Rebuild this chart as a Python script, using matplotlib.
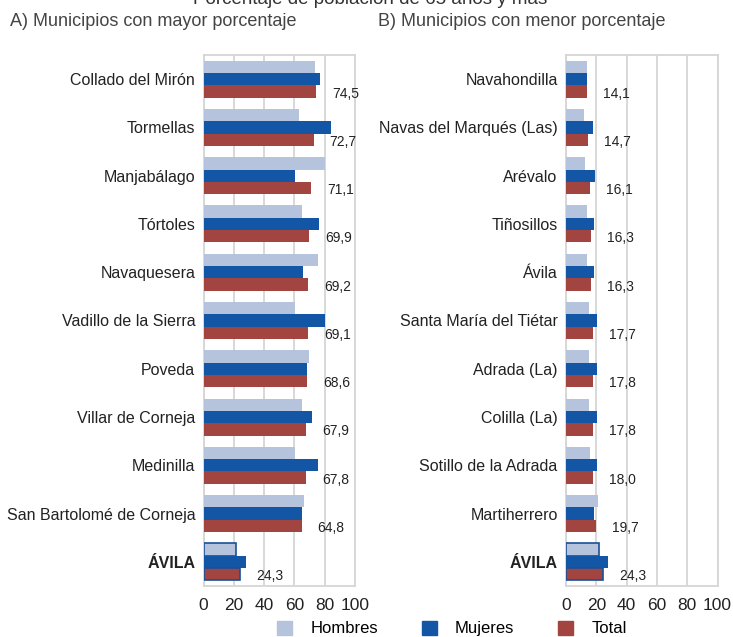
'''
Porcentaje de población de 65 años y más: municipios con mayor y menor porcentaje.
'''

import matplotlib.pyplot as plt
import numpy as np
from matplotlib.patches import Patch

plt.rcParams['font.family'] = ['Liberation Sans', 'DejaVu Sans']

# A) mayor porcentaje
muni_a = ['Collado del Mirón', 'Tormellas', 'Manjabálago', 'Tórtoles', 'Navaquesera',
          'Vadillo de la Sierra', 'Poveda', 'Villar de Corneja', 'Medinilla',
          'San Bartolomé de Corneja', 'ÁVILA']
hombres_a = [73.7, 63.2, 80.5, 64.9, 75.5, 60.5, 69.5, 64.7, 60.3, 66.2, 21.6]
mujeres_a = [76.6, 84.3, 60.5, 76.1, 65.6, 80.5, 68.4, 71.9, 75.9, 64.7, 27.9]
total_a = [74.5, 72.7, 71.1, 69.9, 69.2, 69.1, 68.6, 67.9, 67.8, 64.8, 24.3]

# B) menor porcentaje
muni_b = ['Navahondilla', 'Navas del Marqués (Las)', 'Arévalo', 'Tiñosillos', 'Ávila',
          'Santa María del Tiétar', 'Adrada (La)', 'Colilla (La)', 'Sotillo de la Adrada',
          'Martiherrero', 'ÁVILA']
hombres_b = [14.1, 12.1, 12.8, 13.9, 13.7, 15.2, 15.2, 15.2, 15.7, 21.2, 21.6]
mujeres_b = [13.9, 17.7, 19.2, 18.5, 18.8, 20.7, 20.5, 20.5, 20.5, 18.3, 27.9]
total_b = [14.1, 14.7, 16.1, 16.3, 16.3, 17.7, 17.8, 17.8, 18.0, 19.7, 24.3]

C_H = '#b5c3dd'
C_M = '#1256a5'
C_T = '#a2443f'
EDGE = '#1a4f9a'
GRID = '#d6d6d6'


def draw_panel(ax, names, hom, muj, tot):
    n = len(names)
    y = np.arange(n)
    h = 0.255
    last = n - 1
    for i in range(n):
        ec = EDGE if i == last else 'none'
        lw = 1.2 if i == last else 0
        ax.barh(y[i] - h, hom[i], height=h, color=C_H, edgecolor=ec, linewidth=lw, zorder=3)
        ax.barh(y[i], muj[i], height=h, color=C_M, zorder=3)
        ax.barh(y[i] + h, tot[i], height=h, color=C_T, edgecolor=ec, linewidth=lw, zorder=3)
        ax.annotate(f'{tot[i]:.1f}'.replace('.', ','), (tot[i], y[i] + h),
                    xytext=(11.5, -1.5), textcoords='offset points', va='center', ha='left',
                    fontsize=10, color='#222222')
    ax.set_ylim(n - 0.5, -0.5)
    ax.set_xlim(0, 100)
    ax.set_xticks([0, 20, 40, 60, 80, 100])
    ax.set_yticks(y)
    ax.set_yticklabels(names, fontsize=11.5, color='#222222')
    ax.get_yticklabels()[-1].set_fontweight('bold')
    ax.tick_params(axis='y', length=0, pad=6)
    ax.tick_params(axis='x', length=0, labelsize=12.5, colors='#222222', pad=8.5)
    ax.grid(axis='x', color=GRID, linewidth=1.3, zorder=0)
    for s in ax.spines.values():
        s.set_color(GRID)
        s.set_linewidth(1.3)


W, H = 733, 637
fig = plt.figure(figsize=(W / 100, H / 100), dpi=100)
ax_a = fig.add_axes([203.5 / W, (H - 586) / H, 151.5 / W, 531 / H])
ax_b = fig.add_axes([566 / W, (H - 586) / H, 151.5 / W, 531 / H])
draw_panel(ax_a, muni_a, hombres_a, mujeres_a, total_a)
draw_panel(ax_b, muni_b, hombres_b, mujeres_b, total_b)

fig.text(370 / W, 1.0, 'Porcentaje de población de 65 años y más', ha='center', va='center',
         fontsize=13.5, color='#333333')
fig.text(10 / W, 1 - 22 / H, 'A) Municipios con mayor porcentaje', ha='left', va='center',
         fontsize=13, color='#444444')
fig.text(378 / W, 1 - 22 / H, 'B) Municipios con menor porcentaje', ha='left', va='center',
         fontsize=13, color='#444444')

handles = [Patch(color=C_H), Patch(color=C_M), Patch(color=C_T)]
fig.legend(handles, ['Hombres', 'Mujeres', 'Total'], loc='center',
           bbox_to_anchor=(452 / W, 1 - 628.5 / H), ncol=3, frameon=False,
           handlelength=0.9, handleheight=0.9, handletextpad=1.1, columnspacing=2.6,
           fontsize=12)

fig.savefig('out.png', dpi=100)
